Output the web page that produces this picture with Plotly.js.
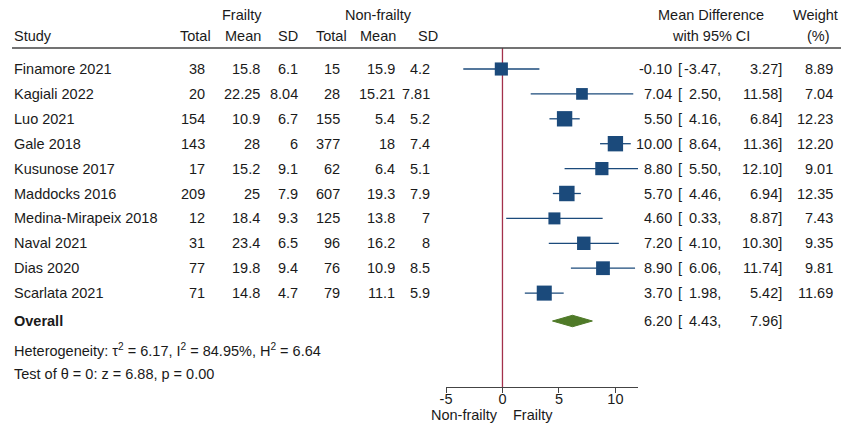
<!DOCTYPE html>
<html><head><meta charset="utf-8">
<script src="https://cdn.plot.ly/plotly-3.0.1.min.js"></script>
<style>html,body{margin:0;padding:0;background:#fff}#chart{width:843px;height:425px}</style>
</head><body><div id="chart"></div>
<script>
// ---- data ----
const studies = ["Finamore 2021","Kagiali 2022","Luo 2021","Gale 2018","Kusunose 2017","Maddocks 2016","Medina-Mirapeix 2018","Naval 2021","Dias 2020","Scarlata 2021"];
const fTotal = ["38","20","154","143","17","209","12","31","77","71"];
const fMean  = ["15.8","22.25","10.9","28","15.2","25","18.4","23.4","19.8","14.8"];
const fSD    = ["6.1","8.04","6.7","6","9.1","7.9","9.3","6.5","9.4","4.7"];
const nTotal = ["15","28","155","377","62","607","125","96","76","79"];
const nMean  = ["15.9","15.21","5.4","18","6.4","19.3","13.8","16.2","10.9","11.1"];
const nSD    = ["4.2","7.81","5.2","7.4","5.1","7.9","7","8","8.5","5.9"];
const est    = [-0.10, 7.04, 5.50, 10.00, 8.80, 5.70, 4.60, 7.20, 8.90, 3.70];
const lo     = [-3.47, 2.50, 4.16, 8.64, 5.50, 4.46, 0.33, 4.10, 6.06, 1.98];
const hi     = [ 3.27,11.58, 6.84,11.36,12.10, 6.94, 8.87,10.30,11.74, 5.42];
const weight = [ 8.89, 7.04,12.23,12.20, 9.01,12.35, 7.43, 9.35, 9.81,11.69];
const overall = {est: 6.20, lo: 4.43, hi: 7.96};
const xTicks = [-5, 0, 5, 10];
const xTickText = ["-5", "0", "5", "10"];

// ---- layout helpers (pixel -> row units) ----
const W = 843, H = 425;
const row0 = 69, step = 24.9;
const py = p => (p - row0) / step;           // pixel y -> y data
const px = p => p / W;                        // pixel x -> paper x
const rows = studies.map((_, i) => i);
const overallRow = py(321);

const blue = "#1b4a7b", green = "#4f7a28", red = "#a3304b", txt = "#1a1a1a";
const font = {family: "Liberation Sans, Arial, sans-serif", size: 14.5, color: txt};

const traces = [];
// CI lines
const ciX = [], ciY = [];
rows.forEach(i => { ciX.push(lo[i], hi[i], null); ciY.push(i, i, null); });
traces.push({x: ciX, y: ciY, mode: "lines", line: {color: blue, width: 1.3}, hoverinfo: "skip", cliponaxis: false});
// squares
traces.push({x: est, y: rows, mode: "markers", cliponaxis: false,
  marker: {symbol: "square", color: blue, opacity: 1, size: weight.map(w => 4.4 * Math.sqrt(w)), line: {width: 0}}});
// diamond
const dh = 0.23;
traces.push({x: [overall.lo, overall.est, overall.hi, overall.est, overall.lo],
  y: [overallRow, overallRow - dh, overallRow, overallRow + dh, overallRow],
  mode: "lines", fill: "toself", fillcolor: green, line: {color: green, width: 1}, cliponaxis: false});

const ann = [];
function A(text, xPix, yVal, anchor, extra) {
  ann.push(Object.assign({text, x: px(xPix), y: yVal, xref: "paper", yref: "y", xanchor: anchor,
    yanchor: "middle", showarrow: false, font, align: anchor}, extra || {}));
}
// headers
A("Frailty", 242, py(15), "center");
A("Non-frailty", 378, py(15), "center");
A("Study", 12, py(36), "left");
A("Total", 213, py(36), "right");
A("Mean", 263, py(36), "right");
A("SD", 300, py(36), "right");
A("Total", 349, py(36), "right");
A("Mean", 398, py(36), "right");
A("SD", 416, py(36), "left");
A("Mean Difference", 711, py(15), "center");
A("with 95% CI", 711, py(36), "center");
A("Weight", 840, py(15), "right");
A("(%)", 818, py(36), "center");

const f2 = v => v.toFixed(2);
rows.forEach(i => {
  A(studies[i], 12, i, "left");
  A(fTotal[i], 207, i, "right");
  A(fMean[i], 262, i, "right");
  A(fSD[i], 300, i, "right");
  A(nTotal[i], 342, i, "right");
  A(nMean[i], 397, i, "right");
  A(nSD[i], 432, i, "right");
  A(f2(est[i]), 674, i, "right");
  A("[", 676, i, "left");
  A(f2(lo[i]) + ",", 723, i, "right");
  A(f2(hi[i]) + "]", 784, i, "right");
  A(f2(weight[i]), 835, i, "right");
});
A("<b>Overall</b>", 12, overallRow, "left");
A(f2(overall.est), 674, overallRow, "right");
A("[", 676, overallRow, "left");
A(f2(overall.lo) + ",", 723, overallRow, "right");
A(f2(overall.hi) + "]", 784, overallRow, "right");
A("Heterogeneity: τ<sup>2</sup> = 6.17, I<sup>2</sup> = 84.95%, H<sup>2</sup> = 6.64", 12, py(350), "left");
A("Test of θ = 0: z = 6.88, p = 0.00", 12, py(374), "left");
ann.push({text: "Non-frailty", x: 0, xref: "x", xshift: -2, y: py(415), yref: "y", xanchor: "right", yanchor: "middle", showarrow: false, font});
ann.push({text: "Frailty", x: 0, xref: "x", xshift: 9, y: py(415), yref: "y", xanchor: "left", yanchor: "middle", showarrow: false, font});

const layout = {
  width: W, height: H, margin: {l: 0, r: 0, t: 0, b: 0},
  paper_bgcolor: "#fff", plot_bgcolor: "rgba(0,0,0,0)", showlegend: false, font,
  xaxis: {domain: [px(446), px(638)], range: [-5, 12], tickvals: xTicks, ticktext: xTickText, ticks: "outside", ticklen: 5,
    ticklabelstandoff: -6,
    tickcolor: "#444", showline: true, linecolor: "#444", linewidth: 1, showgrid: false, zeroline: false,
    anchor: "free", position: (H - 387) / H, tickfont: {family: font.family, size: 14.5, color: txt}},
  yaxis: {domain: [0, 1], range: [py(H), py(0)], visible: false, showgrid: false, zeroline: false},
  shapes: [
    {type: "line", xref: "paper", yref: "y", x0: px(12), x1: px(841), y0: py(48), y1: py(48), line: {color: "#444", width: 1.5}},
    {type: "line", xref: "x", yref: "y", x0: 0, x1: 0, y0: py(48), y1: py(387), line: {color: red, width: 1.3}, layer: "below"}
  ],
  annotations: ann
};
Plotly.newPlot("chart", traces, layout, {staticPlot: true, displayModeBar: false});
</script></body></html>
